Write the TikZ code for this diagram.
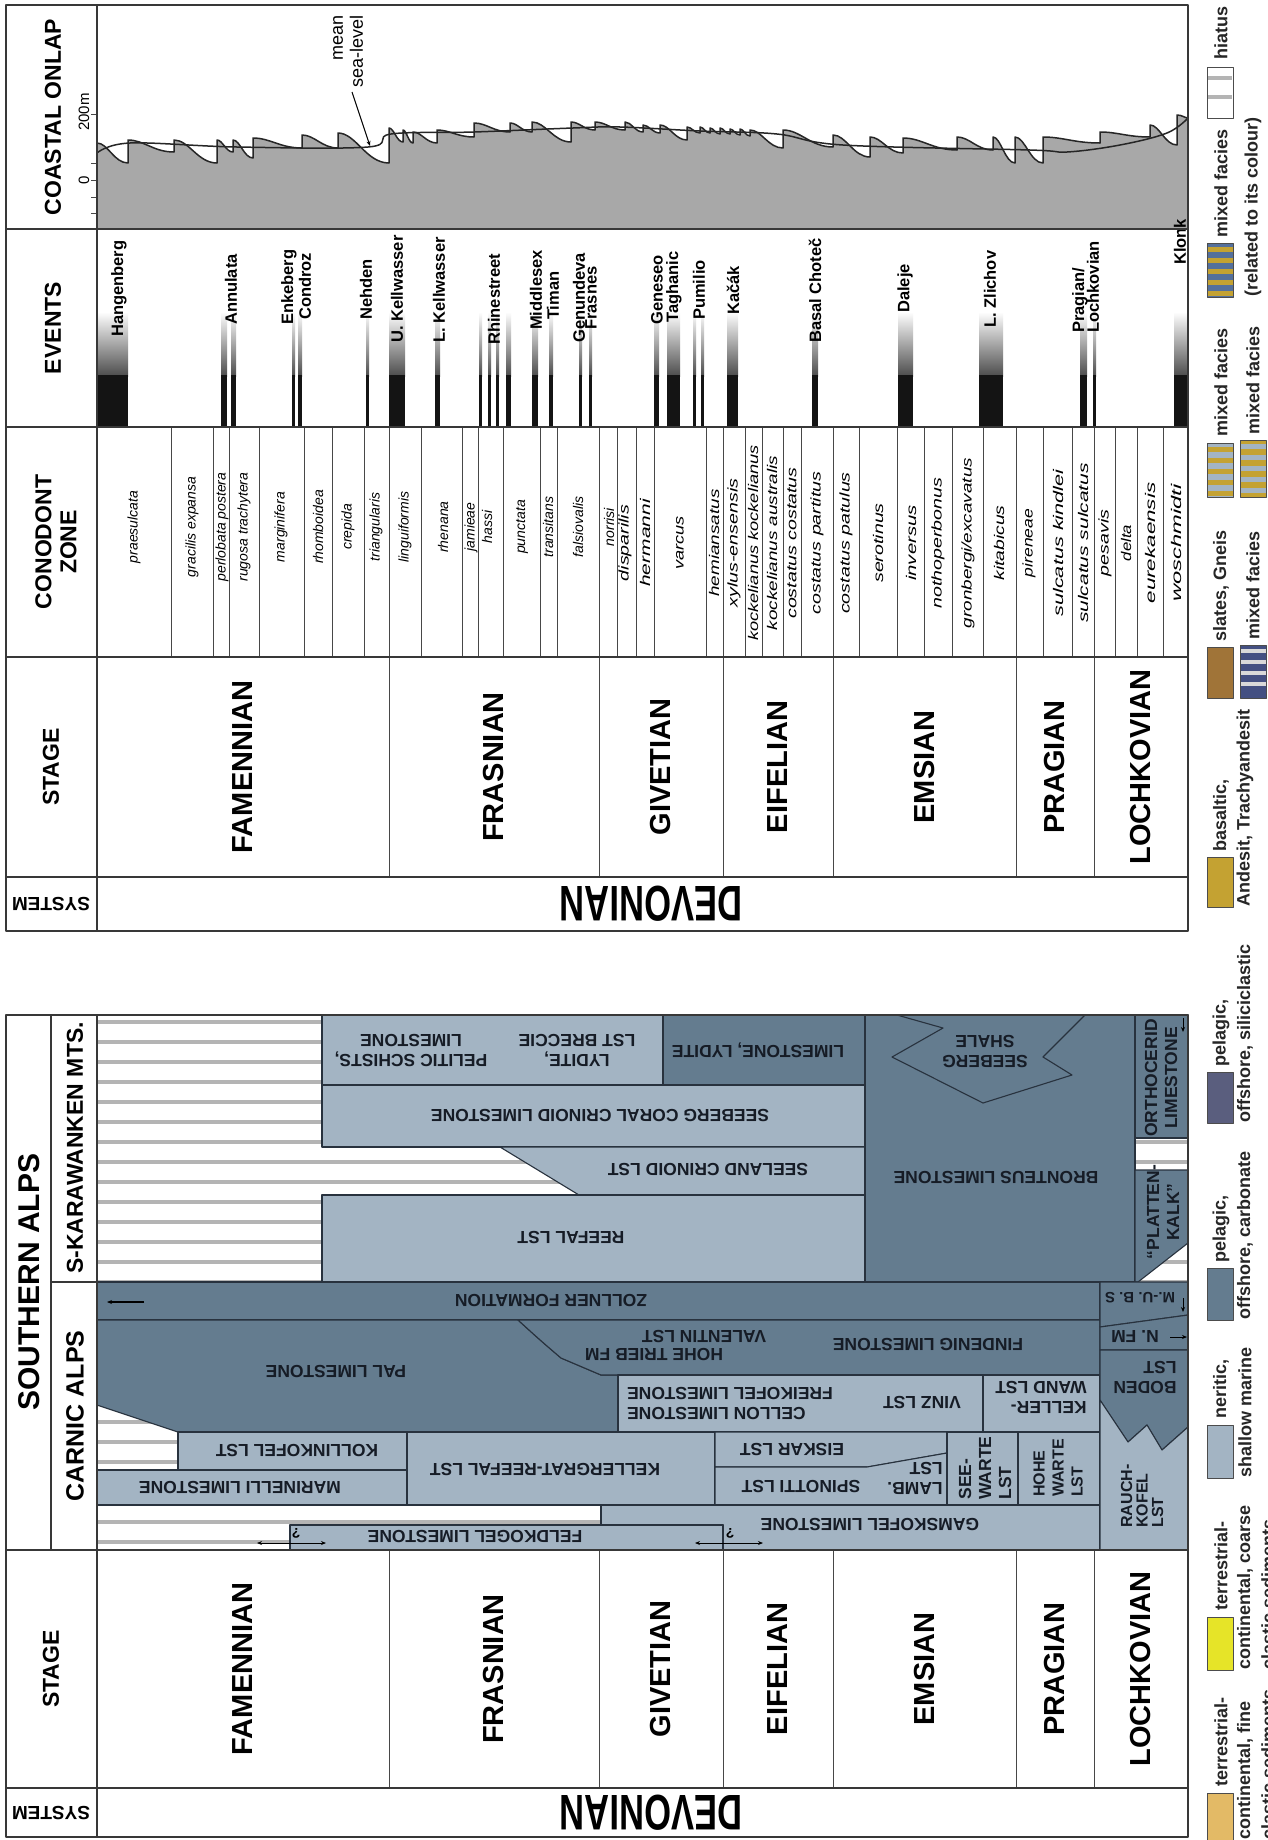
\documentclass[tikz,border=0pt]{standalone}
\usepackage{fontspec}
\setmainfont{Liberation Sans}
\usetikzlibrary{arrows.meta}
\newcommand\fsz[2]{\fontsize{#1}{#2}\selectfont}
\definecolor{lt}{RGB}{163,180,195}
\definecolor{dk}{RGB}{100,124,143}
\definecolor{ln}{RGB}{40,50,62}
\definecolor{fmt}{RGB}{22,28,38}
\definecolor{hz}{RGB}{180,180,180}
\definecolor{onl}{RGB}{168,168,168}
\definecolor{tanc}{RGB}{227,186,102}
\definecolor{yel}{RGB}{230,228,40}
\definecolor{pur}{RGB}{90,94,126}
\definecolor{mus}{RGB}{196,162,50}
\definecolor{brn}{RGB}{160,116,56}
\definecolor{blu}{RGB}{84,112,156}
\definecolor{nav}{RGB}{68,80,130}
\begin{document}
\begin{tikzpicture}[x=1pt,y=-1pt,line join=round,
 frm/.style={draw=black!78,line width=1.7},
 gl/.style={draw=black!72,line width=1},
 bx/.style={draw=ln,line width=1.1},
 hdr/.style={font=\fsz{23}{25}\bfseries,rotate=90,inner sep=0,align=center},
 sys/.style={font=\fsz{19}{19}\bfseries,rotate=180,inner sep=0},
 dev/.style={font=\fsz{34.5}{35}\bfseries,rotate=180,yscale=1.45,inner sep=0},
 stg/.style={font=\fsz{29}{29}\bfseries,rotate=90,inner sep=0},
 cz/.style={font=\fsz{14}{14}\itshape,rotate=90,inner sep=0},
 ev/.style={font=\fsz{16.5}{17}\bfseries,rotate=90,anchor=west,inner sep=0},
 fm/.style={font=\fsz{17.5}{20}\bfseries,rotate=180,inner sep=0,text=fmt,align=center},
 fmv/.style={font=\fsz{17.5}{20}\bfseries,rotate=90,inner sep=0,text=fmt,align=center},
 lg/.style={font=\fsz{18}{18}\bfseries,rotate=90,anchor=west,inner sep=0,text=black!85},
 lgsw/.style={draw=black!70,line width=1},
 arr/.style={-{Stealth[length=5pt,width=4pt]},line width=1.1},
]
\useasboundingbox (0,0) rectangle (1267,1840);
\fill[white] (0,0) rectangle (1267,1840);

% ================= DEVONIAN CHART (upper) =================
\def\sawlist{97/143/128/163/140, 128/140/174/152/140, 174/140/217/163/140, 217/140/233/152/140, 233/140/253/158/138, 253/138/302/148/135, 302/135/338/148/133, 338/133/389/163/128, 389/128/403/142/130, 403/130/413/143/132, 413/132/437/143/130, 437/130/474/137/123, 474/123/510/132/123, 510/123/532/132/122, 532/122/571/142/122, 571/122/595/130/122, 595/122/625/130/122, 625/122/643/132/125, 643/125/660/133/125, 660/125/687/140/127, 687/127/700/133/127, 700/127/710/133/128, 710/128/720/134/128, 720/128/730/134/129, 730/129/740/135/129, 740/129/750/136/130, 750/130/783/148/130, 783/130/833/147/135, 833/135/870/157/137, 870/137/903/153/138, 903/138/957/150/137, 957/137/993/150/137, 993/137/1015/163/137, 1015/137/1043/163/137, 1043/137/1100/143/132, 1100/132/1150/137/125, 1150/125/1177/145/115}
\fill[onl] (97,229) -- (97,143) foreach \xa/\ta/\xb/\bb/\tb in \sawlist { .. controls ({\xa+0.35*(\xb-\xa)},\ta) and ({\xa+0.55*(\xb-\xa)},\bb) .. (\xb,\bb) -- (\xb,\tb) } .. controls (1182,115) and (1185,118) .. (1188,118) -- (1188,229) -- cycle;
\draw[line width=1.5,black!85] (97,143) foreach \xa/\ta/\xb/\bb/\tb in \sawlist { .. controls ({\xa+0.35*(\xb-\xa)},\ta) and ({\xa+0.55*(\xb-\xa)},\bb) .. (\xb,\bb) -- (\xb,\tb) } .. controls (1182,115) and (1185,118) .. (1188,118);
\draw[line width=1.5,black!85] plot[smooth,tension=0.6] coordinates {(97,153) (130,143) (237,147) (368,147) (391,134) (474,132) (573,128) (620,127) (700,131) (777,134) (843,145) (1030,150) (1067,152) (1120,145) (1167,133) (1188,118)};
\node[font=\fsz{18}{20},rotate=90,align=right,anchor=east,inner sep=0] (msl) at (348,15) {mean\\sea-level};
\coordinate (mslA) at (352,92);
\coordinate (mslB) at (370,146);
\draw[arr,line width=1] (mslA) -- (mslB);
\foreach \y in {114,163,180,197,213} \draw[gl] (91,\y) -- (97,\y);
\node[font=\fsz{15}{15},rotate=90,inner sep=0] (t200) at (84,112) {200m};
\node[font=\fsz{15}{15},rotate=90,inner sep=0] (t0) at (84,180) {0};

% events bars
\foreach \a/\b in {97/128, 221/227, 231/236, 292/295, 298/302, 366/369, 389/405, 435/440, 479/482, 488/491, 496/499, 506/511, 532/538, 549/553, 579/582, 589/592, 654/659, 667/680, 693/696, 701/704, 727/738, 812/818, 898/913, 979/1003, 1080/1087, 1093/1096, 1174/1188}{
  \shade[top color=white,bottom color=black!70] (\a,312) rectangle (\b,376);
  \fill[black!92] (\a,375) rectangle (\b,427);
}
\foreach \x/\y/\t in {119/337/Hangenberg, 231/325/Annulata, 289/325/Enkeberg, 305/320/Condroz, 366/320/Nehden, 397/343/U. Kellwasser, 439/343/L. Kellwasser, 494/345/Rhinestreet, 536/330/Middlesex, 553/320/Timan, 579/343/Genundeva, 591/330/Frasnes, 657/325/Geneseo, 674/323/Taghanic, 699/320/Pumilio, 733/315/Kačák, 815/343/Basal Choteč, 905/313/Daleje, 990/328/L. Zlichov, 1093/333/Lochkovian, 1180/265/Klonk}
  \node[ev] (ev\x) at (\x,\y) {\t};
\node[ev] (evPrag) at (1080,333) {Pragian/};

% conodont zones
\foreach \x in {171,213,229,259,304,332,364,389,421,462,478,503,540,557,599,617,636,654,706,723,745,762,783,801,833,859,897,924,952,983,1016,1043,1072,1094,1115,1137,1163}
  \draw[gl] (\x,427) -- (\x,657);
\foreach \x/\t in {134/praesulcata, 192/gracilis expansa, 222/perlobata postera, 244/rugosa trachytera, 281/marginifera, 318/rhomboidea, 348/crepida, 376/triangularis, 405/linguiformis, 443/rhenana, 471/jamieae, 487/hassi, 522/punctata, 548/transitans, 578/falsiovalis, 609/norrisi}
  \node[cz] (cz\x) at (\x,527) {\t};
\foreach \x/\s/\t in {625/1.4/disparilis, 645/1.5/hermanni, 680/1.3/varcus, 714/1.35/hemiansatus, 734/1.4/xylus-ensensis, 753/1.3/kockelianus kockelianus, 772/1.35/kockelianus australis, 792/1.4/costatus costatus, 817/1.4/costatus partitus, 846/1.4/costatus patulus, 878/1.4/serotinus, 911/1.45/inversus, 938/1.4/nothoperbonus, 999/1.38/kitabicus, 1029/1.25/pireneae, 1058/1.55/sulcatus kindlei, 1083/1.5/sulcatus sulcatus, 1105/1.4/pesavis, 1126/1.2/delta, 1150/1.6/eurekaensis, 1176/1.7/woschmidti}
  \node[cz,xscale=\s] (cz\x) at (\x,543) {\t};
\node[cz,xscale=1.35] (cz968) at (968,543) {gronbergi/excavatus};

% stages (both panels)
\foreach \x in {389,599,723,833,1016,1094}{
  \draw[gl] (\x,657) -- (\x,877);
  \draw[gl] (\x,1550) -- (\x,1788);
}
\foreach \x/\t in {243/FAMENNIAN, 494/FRASNIAN, 661/GIVETIAN, 778/EIFELIAN, 925/EMSIAN, 1055/PRAGIAN, 1141/LOCHKOVIAN}{
  \node[stg] (sa\x) at (\x,767) {\t};
  \node[stg] (sb\x) at (\x,1669) {\t};
}

% headers
\node[hdr] (hco) at (53,117) {COASTAL ONLAP};
\node[hdr] (hev) at (53,328) {EVENTS};
\node[hdr] (hcz) at (56,542) {CONODONT\\ZONE};
\node[hdr] (hst) at (51,767) {STAGE};
\node[sys] (hsy) at (51,904) {SYSTEM};
\node[dev] (dev1) at (651,904) {DEVONIAN};

% frame upper
\draw[frm] (6,5) rectangle (1188,931);
\foreach \y in {229,427,657,877} \draw[frm] (6,\y) -- (1188,\y);
\draw[frm] (97,5) -- (97,931);

% ================= SOUTHERN ALPS (lower) =================
\begin{scope}
\clip (97,1015) rectangle (1188,1550);
\foreach \y in {1022,1042,...,1542} \draw[hz,line width=3.5] (97,\y) -- (1188,\y);
\end{scope}
% S-Karawanken
\filldraw[fill=lt,bx] (322,1015) rectangle (663,1085);
\filldraw[fill=dk,bx] (663,1015) rectangle (865,1085);
\filldraw[fill=lt,bx] (322,1085) rectangle (865,1147);
\filldraw[fill=lt,bx] (500,1147) -- (865,1147) -- (865,1195) -- (579,1195) -- cycle;
\filldraw[fill=lt,bx] (322,1195) rectangle (865,1282);
\filldraw[fill=dk,bx] (865,1015) rectangle (1135,1282);
\draw[bx] (897,1015) -- (943,1028) -- (892,1057) -- (983,1103) -- (1072,1075) -- (1043,1057) -- (1085,1015);
\filldraw[fill=dk,bx] (1135,1015) rectangle (1188,1138);
\filldraw[fill=dk,bx] (1135,1170) -- (1188,1170) -- (1188,1243) -- (1138,1282) -- (1135,1282) -- cycle;
% Carnic
\filldraw[fill=dk,bx] (97,1282) rectangle (1100,1320);
\filldraw[fill=dk,bx] (97,1320) -- (518,1320) .. controls (540,1340) .. (561,1358) -- (601,1375) -- (618,1375) -- (618,1432) -- (178,1432) -- (97,1405) -- cycle;
\filldraw[fill=dk,bx] (518,1320) -- (1100,1320) -- (1100,1375) -- (618,1375) -- (601,1375) -- (561,1358) .. controls (540,1340) .. (518,1320) -- cycle;
\filldraw[fill=lt,bx] (618,1375) rectangle (983,1432);
\filldraw[fill=lt,bx] (983,1375) rectangle (1100,1432);
\filldraw[fill=lt,bx] (178,1432) rectangle (407,1470);
\filldraw[fill=lt,bx] (97,1470) rectangle (407,1505);
\filldraw[fill=lt,bx] (407,1432) rectangle (715,1505);
\filldraw[fill=lt,bx] (715,1432) -- (947,1432) -- (947,1453) -- (867,1467) -- (715,1467) -- cycle;
\filldraw[fill=lt,bx] (715,1467) -- (867,1467) -- (947,1453) -- (947,1505) -- (715,1505) -- cycle;
\filldraw[fill=lt,bx] (947,1432) rectangle (1018,1505);
\filldraw[fill=lt,bx] (1018,1432) rectangle (1100,1505);
\filldraw[fill=lt,bx] (601,1505) -- (1100,1505) -- (1100,1550) -- (723,1550) -- (723,1525) -- (601,1525) -- cycle;
\filldraw[fill=lt,bx] (290,1525) rectangle (723,1550);
\filldraw[fill=dk,bx] (1100,1282) -- (1188,1282) -- (1188,1315) -- (1100,1327) -- cycle;
\filldraw[fill=dk,bx] (1100,1327) -- (1188,1315) -- (1188,1350) -- (1100,1350) -- cycle;
\filldraw[fill=dk,bx] (1100,1350) -- (1188,1350) -- (1188,1427) -- (1162,1450) -- (1147,1425) -- (1128,1442) -- (1100,1400) -- cycle;
\filldraw[fill=lt,bx] (1100,1400) -- (1128,1442) -- (1147,1425) -- (1162,1450) -- (1188,1427) -- (1188,1550) -- (1100,1550) -- cycle;

% formation labels
\node[fm] (f1) at (411,1051) {PELITIC SCHISTS,\\LIMESTONE};
\node[fm] (f2) at (577,1050) {LYDITE,\\LST BRECCIE};
\node[fm] (f3) at (758,1050) {LIMESTONE, LYDITE};
\node[fm] (f4) at (600,1116) {SEEBERG CORAL CRINOID LIMESTONE};
\node[fm] (f5) at (708,1170) {SEELAND CRINOID LST};
\node[fm] (f6) at (571,1238) {REEFAL LST};
\node[fm] (f7) at (996,1178) {BRONTEUS LIMESTONE};
\node[fm] (f8) at (985,1052) {SEEBERG\\SHALE};
\node[fmv] (f9) at (1161,1078) {ORTHOCERID\\LIMESTONE};
\node[fmv] (f10) at (1163,1212) {``PLATTEN-\\KALK''};
\node[fm] (f11) at (551,1301) {ZOLLNER FORMATION};
\node[fm] (f12) at (336,1372) {PAL LIMESTONE};
\node[fm] (f13) at (704,1337) {VALENTIN LST};
\node[fm] (f14) at (654,1355) {HOHE TRIEB FM};
\node[fm] (f15) at (928,1345) {FINDENIG LIMESTONE};
\node[fm,font=\fsz{15}{15}\bfseries] (f16) at (1140,1298) {M.-U. B. S};
\node[fm] (f17) at (1135,1337) {N. FM};
\node[fm,align=left] (f18) at (1145,1378) {BODEN\\LST};
\node[fm,align=right] (f19) at (730,1404) {CELLON LIMESTONE\\FREIKOFEL LIMESTONE};
\node[fm] (f20) at (922,1403) {VINZ LST};
\node[fm,align=left] (f21) at (1041,1397) {KELLER-\\WAND LST};
\node[fm] (f22) at (297,1451) {KOLLINKOFEL LST};
\node[fm] (f23) at (240,1488) {MARINELLI LIMESTONE};
\node[fm] (f24) at (545,1470) {KELLERGRAT-REEFAL LST};
\node[fm] (f25) at (792,1450) {EISKAR LST};
\node[fm] (f26) at (801,1487) {SPINOTTI LST};
\node[fm,align=left] (f27) at (915,1478) {LAMB.\\LST};
\node[fmv,align=left] (f28) at (985,1468) {SEE-\\WARTE\\LST};
\node[fmv,align=left,font=\fsz{16}{19}\bfseries] (f29) at (1058,1468) {HOHE\\WARTE\\LST};
\node[fmv,align=left,font=\fsz{16}{15.5}\bfseries] (f30) at (1142,1496) {RAUCH-\\KOFEL\\LST};
\node[fm] (f31) at (475,1537) {FELDKOGEL LIMESTONE};
\node[fm] (f32) at (870,1525) {GAMSKOFEL LIMESTONE};

% small arrows and question marks
\coordinate (zA) at (144,1302); \coordinate (zB) at (107,1302);
\draw[arr] (zA) -- (zB);
\coordinate (oA) at (1183,1018); \coordinate (oB) at (1183,1032);
\draw[arr,line width=0.9] (oA) -- (oB);
\coordinate (mA) at (1183,1298); \coordinate (mB) at (1183,1312);
\draw[arr,line width=0.9] (mA) -- (mB);
\coordinate (nA) at (1170,1337); \coordinate (nB) at (1187,1337);
\draw[arr,line width=0.9] (nA) -- (nB);
\coordinate (q1a) at (257,1543); \coordinate (q1b) at (326,1543);
\draw[{Stealth[length=5pt,width=4pt]}-{Stealth[length=5pt,width=4pt]},line width=1] (q1a) -- (q1b);
\node[font=\fsz{14}{14}\bfseries,rotate=180,inner sep=0] (q1) at (296,1533) {?};
\coordinate (q2a) at (695,1543); \coordinate (q2b) at (763,1543);
\draw[{Stealth[length=5pt,width=4pt]}-{Stealth[length=5pt,width=4pt]},line width=1] (q2a) -- (q2b);
\node[font=\fsz{14}{14}\bfseries,rotate=180,inner sep=0] (q2) at (730,1533) {?};

% headers lower
\node[font=\fsz{30}{30}\bfseries,rotate=90,inner sep=0] (hsa) at (29,1282) {SOUTHERN ALPS};
\node[font=\fsz{23}{23}\bfseries,rotate=90,inner sep=0] (hsk) at (75,1148) {S-KARAWANKEN MTS.};
\node[font=\fsz{25}{25}\bfseries,rotate=90,inner sep=0] (hca) at (75,1416) {CARNIC ALPS};
\node[hdr] (hst2) at (51,1669) {STAGE};
\node[sys] (hsy2) at (51,1813) {SYSTEM};
\node[dev] (dev2) at (651,1813) {DEVONIAN};

% frame lower
\draw[frm] (6,1015) rectangle (1188,1837);
\draw[frm] (51,1282) -- (97,1282);
\draw[frm] (6,1550) -- (1188,1550);
\draw[frm] (6,1788) -- (1188,1788);
\draw[frm] (51,1015) -- (51,1550);
\draw[frm] (97,1015) -- (97,1837);

% ================= LEGEND =================
\filldraw[fill=tanc,lgsw] (1207,1793) rectangle (1233,1846);
\node[lg] (lg1a) at (1221,1787) {terrestrial-};
\node[lg] (lg1b) at (1245,1840) {continental, fine};
\node[lg] (lg1c) at (1268,1840) {clastic sediments};
\filldraw[fill=yel,lgsw] (1207,1617) rectangle (1233,1670);
\node[lg] (lg2a) at (1221,1611) {terrestrial-};
\node[lg] (lg2b) at (1245,1670) {continental, coarse};
\node[lg] (lg2c) at (1268,1670) {clastic sediments};
\filldraw[fill=lt,lgsw] (1207,1425) rectangle (1233,1478);
\node[lg] (lg3a) at (1221,1419) {neritic,};
\node[lg] (lg3b) at (1245,1478) {shallow marine};
\filldraw[fill=dk,lgsw] (1207,1268) rectangle (1233,1320);
\node[lg] (lg4a) at (1221,1263) {pelagic,};
\node[lg] (lg4b) at (1245,1320) {offshore, carbonate};
\filldraw[fill=pur,lgsw] (1207,1072) rectangle (1233,1123);
\node[lg] (lg5a) at (1221,1067) {pelagic,};
\node[lg] (lg5b) at (1245,1123) {offshore, siliciclastic};
\filldraw[fill=mus,lgsw] (1207,857) rectangle (1233,907);
\node[lg] (lg6a) at (1221,852) {basaltic,};
\node[lg] (lg6b) at (1245,907) {Andesit, Trachyandesit};
\filldraw[fill=brn,lgsw] (1207,647) rectangle (1233,698);
\node[lg] (lg7a) at (1221,642) {slates, Gneis};
\fill[nav] (1240,645) rectangle (1266,698);
\foreach \y in {649,660,...,692} \fill[black!15] (1240,\y) rectangle (1266,\y+4);
\draw[lgsw] (1240,645) rectangle (1266,698);
\node[lg] (lg7b) at (1253,640) {mixed facies};
\fill[lt] (1207,443) rectangle (1233,497);
\foreach \y in {447,458,...,492} \fill[mus] (1207,\y) rectangle (1233,\y+5);
\draw[lgsw] (1207,443) rectangle (1233,497);
\node[lg] (lg8a) at (1221,437) {mixed facies};
\fill[mus] (1240,440) rectangle (1266,497);
\foreach \y in {444,455,...,490} \fill[lt] (1240,\y) rectangle (1266,\y+5);
\draw[lgsw] (1240,440) rectangle (1266,497);
\node[lg] (lg8b) at (1253,435) {mixed facies};
\fill[blu] (1207,243) rectangle (1233,297);
\foreach \y in {247,258,...,292} \fill[mus] (1207,\y) rectangle (1233,\y+5);
\draw[lgsw] (1207,243) rectangle (1233,297);
\node[lg] (lg9a) at (1221,238) {mixed facies};
\node[lg] (lg9b) at (1253,297) {(related to its colour)};
\filldraw[fill=white,lgsw] (1207,67) rectangle (1233,118);
\draw[hz,line width=3.5] (1208,78) -- (1232,78);
\draw[hz,line width=3.5] (1208,97) -- (1232,97);
\node[lg] (lg10) at (1221,60) {hiatus};
\end{tikzpicture}
\end{document}
